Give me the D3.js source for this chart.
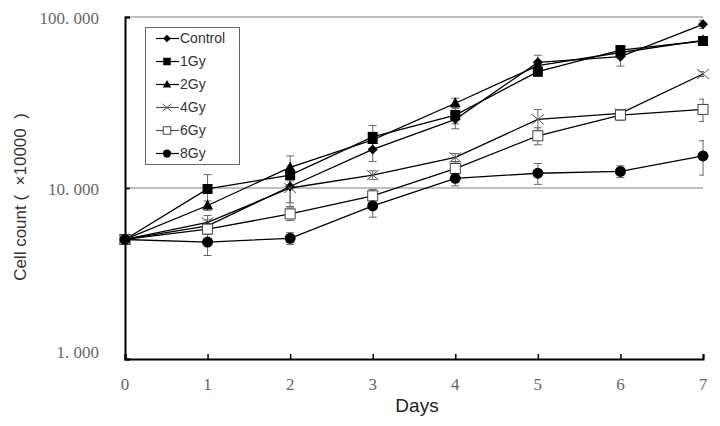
<!DOCTYPE html>
<html><head><meta charset="utf-8">
<script src="https://cdn.jsdelivr.net/npm/d3@7"></script>
<style>body{margin:0;background:#fff}svg{display:block}</style>
</head><body>
<svg id="c" width="720" height="426"></svg>
<script>
const days = [0,1,2,3,4,5,6,7];
const seriesNames = ["Control","1Gy","2Gy","4Gy","6Gy","8Gy"];
const control = [5, 6.0, 10.2, 16.8, 25.2, 54.3, 58.6, 90.6];
const gy1 = [5, 9.87, 11.9, 19.9, 26.7, 47.9, 64.1, 72.4];
const gy2 = [5, 7.9, 13.2, 19.1, 31.3, 52, 62, 73];
const gy4 = [5, 6.3, 10.0, 11.9, 15.1, 25.2, 27.3, 46.4];
const gy6 = [5, 5.75, 7.05, 9.0, 13.0, 20.2, 26.7, 28.8];
const gy8 = [5, 4.83, 5.08, 7.85, 11.4, 12.2, 12.5, 15.4];
const errControl = [0, 0.5, 2.0, 2.5, 3.0, 5.5, 7, 5];
const err1 = [0, 2.1, 1.5, 3.3, 3.0, 3, 3, 3];
const err2 = [0, 0.5, 2.2, 2.0, 2.2, 3, 3, 3];
const err4 = [0, 0.6, 2.2, 0.7, 0.8, 3.6, 1.5, 1.5];
const err6 = [0, 0.4, 0.6, 0.8, 1.2, 2.3, 1.8, 4.3];
const err8 = [0, 0.8, 0.4, 1.1, 1.1, 1.7, 1.0, 3.5];
const yTicks = [1, 10, 100];
const yTickLabels = ["1. 000", "10. 000", "100. 000"];
const xTickLabels = ["0","1","2","3","4","5","6","7"];

const values = [control, gy1, gy2, gy4, gy6, gy8];
const errs = [errControl, err1, err2, err4, err6, err8];
const markers = ["diamond","squareFill","triangle","cross","squareOpen","circle"];

const svg = d3.select("#c");
const x = d3.scaleLinear().domain([0,7]).range([125,703]);
const y = d3.scaleLog().domain([1,100]).range([359,17]);

// gridlines
svg.append("g").selectAll("line").data([10,100]).join("line")
  .attr("x1", x(0)).attr("x2", x(7)).attr("y1", d=>y(d)).attr("y2", d=>y(d))
  .attr("stroke", "#808080").attr("stroke-width", 1);

// axes
const yAxis = d3.axisRight(y).tickValues(yTicks).tickSize(5).tickFormat("");
const gy = svg.append("g").attr("transform", `translate(${x(0)},0)`).call(yAxis);
gy.select(".domain").attr("stroke","#000").attr("stroke-width",2);
gy.selectAll(".tick line").attr("stroke","#000").attr("stroke-width",1.5);

const xAxis = d3.axisTop(x).tickValues(days).tickSize(5).tickFormat("");
const gx = svg.append("g").attr("transform", `translate(0,${y(1)})`).call(xAxis);
gx.select(".domain").attr("stroke","#000").attr("stroke-width",2);
gx.selectAll(".tick line").attr("stroke","#000").attr("stroke-width",1.5);

// tick labels
svg.append("g").selectAll("text").data(yTicks).join("text")
  .attr("x", 99).attr("y", (d,i)=> y(d) + (i===0 ? -7 : 1))
  .attr("dy","0.35em").attr("text-anchor","end")
  .attr("font-family","'Liberation Serif', serif").attr("font-size",17).attr("fill","#666")
  .text((d,i)=>yTickLabels[i]);
svg.append("g").selectAll("text").data(days).join("text")
  .attr("x", d=>x(d)).attr("y", 384).attr("dy","0.35em").attr("text-anchor","middle")
  .attr("font-family","'Liberation Serif', serif").attr("font-size",17).attr("fill","#666")
  .text((d,i)=>xTickLabels[i]);

// titles
svg.append("text").attr("x", 417).attr("y", 412).attr("text-anchor","middle")
  .attr("font-family","'Liberation Sans', Arial, sans-serif").attr("font-size",19).attr("fill","#222")
  .text("Days");
svg.append("text").attr("transform","translate(26,197) rotate(-90)").attr("text-anchor","middle")
  .attr("font-family","'Liberation Sans', Arial, sans-serif").attr("font-size",17).attr("fill","#333")
  .attr("xml:space","preserve")
  .text("Cell count (  \u00d710000  )");

// clip for error bars
svg.append("clipPath").attr("id","eclip").append("rect")
  .attr("x", 0).attr("y", 0).attr("width", x(7)+1).attr("height", 426);

function drawMarker(g, type, cx, cy, s) {
  const k = s || 1;
  if (type === "diamond") {
    g.append("path").attr("d", `M${cx},${cy-5*k}L${cx+5*k},${cy}L${cx},${cy+5*k}L${cx-5*k},${cy}Z`).attr("fill","#000");
  } else if (type === "squareFill") {
    g.append("rect").attr("x",cx-5*k).attr("y",cy-5*k).attr("width",10*k).attr("height",10*k).attr("fill","#000");
  } else if (type === "triangle") {
    g.append("path").attr("d", `M${cx},${cy-6*k}L${cx+5.5*k},${cy+4*k}L${cx-5.5*k},${cy+4*k}Z`).attr("fill","#000");
  } else if (type === "cross") {
    g.append("path").attr("d", `M${cx-6*k},${cy-5*k}L${cx+6*k},${cy+5*k}M${cx-6*k},${cy+5*k}L${cx+6*k},${cy-5*k}`)
      .attr("stroke","#555").attr("stroke-width",1).attr("fill","none");
  } else if (type === "squareOpen") {
    g.append("rect").attr("x",cx-5*k).attr("y",cy-5*k).attr("width",10*k).attr("height",10*k)
      .attr("fill","#fff").attr("stroke","#444").attr("stroke-width",1);
  } else if (type === "circle") {
    g.append("circle").attr("cx",cx).attr("cy",cy).attr("r",5.5*k).attr("fill","#000");
  }
}

const line = d3.line().x((d,i)=>x(days[i])).y(d=>y(d));

// error bars
const eg = svg.append("g").attr("clip-path","url(#eclip)");
values.forEach((vals, si) => {
  vals.forEach((v, i) => {
    const e = errs[si][i];
    if (!e) return;
    const top = y(v + e), bot = y(Math.max(v - e, 1.01));
    const cx = x(days[i]);
    eg.append("line").attr("x1",cx).attr("x2",cx).attr("y1",top).attr("y2",bot).attr("stroke","#666").attr("stroke-width",1);
    eg.append("line").attr("x1",cx-4).attr("x2",cx+4).attr("y1",top).attr("y2",top).attr("stroke","#666").attr("stroke-width",1);
    eg.append("line").attr("x1",cx-4).attr("x2",cx+4).attr("y1",bot).attr("y2",bot).attr("stroke","#666").attr("stroke-width",1);
  });
});

// lines
values.forEach((vals, si) => {
  svg.append("path").datum(vals).attr("d", line).attr("fill","none").attr("stroke","#000").attr("stroke-width",1.3);
});
// markers
values.forEach((vals, si) => {
  const g = svg.append("g");
  vals.forEach((v, i) => drawMarker(g, markers[si], x(days[i]), y(v)));
});

// legend
const lg = svg.append("g");
lg.append("rect").attr("x",145.5).attr("y",27.5).attr("width",94).attr("height",137)
  .attr("fill","#fff").attr("stroke","#666").attr("stroke-width",1);
seriesNames.forEach((name, i) => {
  const ly = 38.5 + i*23;
  lg.append("line").attr("x1",156).attr("x2",179).attr("y1",ly).attr("y2",ly).attr("stroke", i===3||i===4 ? "#555" : "#000").attr("stroke-width",1.2);
  drawMarker(lg, markers[i], 167, ly, 0.75);
  lg.append("text").attr("x",180).attr("y",ly).attr("dy","0.35em")
    .attr("font-family","'Liberation Sans', Arial, sans-serif").attr("font-size",14).attr("fill","#333").text(name);
});
</script>
</body></html>
